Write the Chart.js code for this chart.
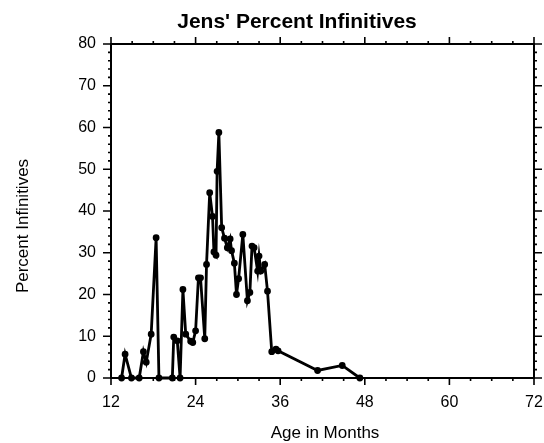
<!DOCTYPE html>
<html>
<head>
<meta charset="utf-8">
<script src="https://cdn.jsdelivr.net/npm/chart.js@4.4.1/dist/chart.umd.min.js"></script>
<style>
  html, body { margin: 0; padding: 0; background: #fff; }
</style>
</head>
<body>
<canvas id="jensChart" width="544" height="443"></canvas>
<script>
// data (age in months, percent infinitives)
const ageMonths = [13.5, 14.0, 14.9, 16.0, 16.6, 17.0, 17.7, 18.4, 18.8, 20.7,
  20.9, 21.4, 21.8, 22.2, 22.6, 23.3, 23.6, 24.0, 24.4, 24.7,
  25.3, 25.55, 26.0, 26.4, 26.6, 26.9, 27.05, 27.3, 27.7, 28.1,
  28.5, 28.9, 29.1, 29.5, 29.8, 30.1, 30.7, 31.35, 31.7, 32.0,
  32.3, 32.8, 33.0, 33.25, 33.8, 34.2, 34.8, 35.4, 35.7, 41.3,
  44.8, 47.3];
const percentInf = [0, 5.7, 0, 0, 6.3, 3.8, 10.5, 33.6, 0, 0,
  9.8, 8.9, 0, 21.2, 10.5, 8.8, 8.5, 11.3, 24, 24,
  9.4, 27.2, 44.4, 38.7, 30.2, 29.4, 49.5, 58.8, 36, 33.5,
  31.2, 33.3, 30.5, 27.5, 20, 23.8, 34.4, 18.5, 20.5, 31.6,
  31.2, 25.6, 29.2, 25.6, 27.2, 20.8, 6.3, 6.9, 6.5, 1.8,
  3.0, 0];

const xRange = [12, 72];
const yRange = [0, 80];
const xMajorStep = 12, xMinorStep = 3;
const yMajorStep = 10, yMinorStep = 2;

const FONT = '"Liberation Sans", Arial, Helvetica, sans-serif';

const points = ageMonths.map((m, i) => ({ x: m, y: percentInf[i] }));

// frame with outward ticks on all four sides + titles
const framePlugin = {
  id: 'frameTicks',
  afterDraw(chart) {
    const { ctx, chartArea: a, scales } = chart;
    const xs = scales.x, ys = scales.y;
    ctx.save();
    ctx.strokeStyle = '#000';
    ctx.lineWidth = 2;
    ctx.strokeRect(a.left, a.top, a.right - a.left, a.bottom - a.top);

    ctx.lineWidth = 1.6;
    ctx.beginPath();
    for (let v = xRange[0]; v <= xRange[1]; v += xMinorStep) {
      const px = xs.getPixelForValue(v);
      const len = v % xMajorStep === 0 ? 7 : 3;
      ctx.moveTo(px, a.bottom); ctx.lineTo(px, a.bottom + len);
      ctx.moveTo(px, a.top); ctx.lineTo(px, a.top - len);
    }
    for (let v = yRange[0]; v <= yRange[1]; v += yMinorStep) {
      const py = ys.getPixelForValue(v);
      const len = v % yMajorStep === 0 ? 8 : 3;
      ctx.moveTo(a.left, py); ctx.lineTo(a.left - len, py);
      ctx.moveTo(a.right, py); ctx.lineTo(a.right + len, py);
    }
    ctx.stroke();

    ctx.fillStyle = '#000';
    ctx.textAlign = 'center';
    ctx.textBaseline = 'alphabetic';
    ctx.font = 'bold 21px ' + FONT;
    ctx.fillText("Jens' Percent Infinitives", 297, 28);

    ctx.font = '17px ' + FONT;
    ctx.fillText('Age in Months', 325, 438);

    ctx.translate(28, 226);
    ctx.rotate(-Math.PI / 2);
    ctx.fillText('Percent Infinitives', 0, 0);
    ctx.restore();
  }
};

new Chart(document.getElementById('jensChart'), {
  type: 'scatter',
  data: {
    datasets: [{
      data: points,
      showLine: true,
      borderColor: '#000',
      backgroundColor: '#000',
      borderWidth: 2.8,
      pointRadius: 2,
      pointHoverRadius: 2,
      tension: 0,
      clip: 4
    }]
  },
  options: {
    responsive: false,
    animation: false,
    layout: { padding: { top: 44, right: 0, left: 0, bottom: 0 } },
    plugins: { legend: { display: false }, tooltip: { enabled: false }, title: { display: false } },
    scales: {
      x: {
        type: 'linear',
        min: xRange[0], max: xRange[1],
        afterFit: s => { s.height = 65; s.paddingLeft = 0; s.paddingRight = 10; },
        grid: { display: false, drawTicks: false },
        border: { display: false },
        ticks: { stepSize: xMajorStep, color: '#000', padding: 15, font: { family: FONT, size: 16 } }
      },
      y: {
        min: yRange[0], max: yRange[1],
        afterFit: s => { s.width = 111; s.paddingTop = 0; s.paddingBottom = 0; },
        grid: { display: false, drawTicks: false },
        border: { display: false },
        ticks: { stepSize: yMajorStep, color: '#000', padding: 15, font: { family: FONT, size: 16 } }
      }
    }
  },
  plugins: [framePlugin]
});
</script>
</body>
</html>
